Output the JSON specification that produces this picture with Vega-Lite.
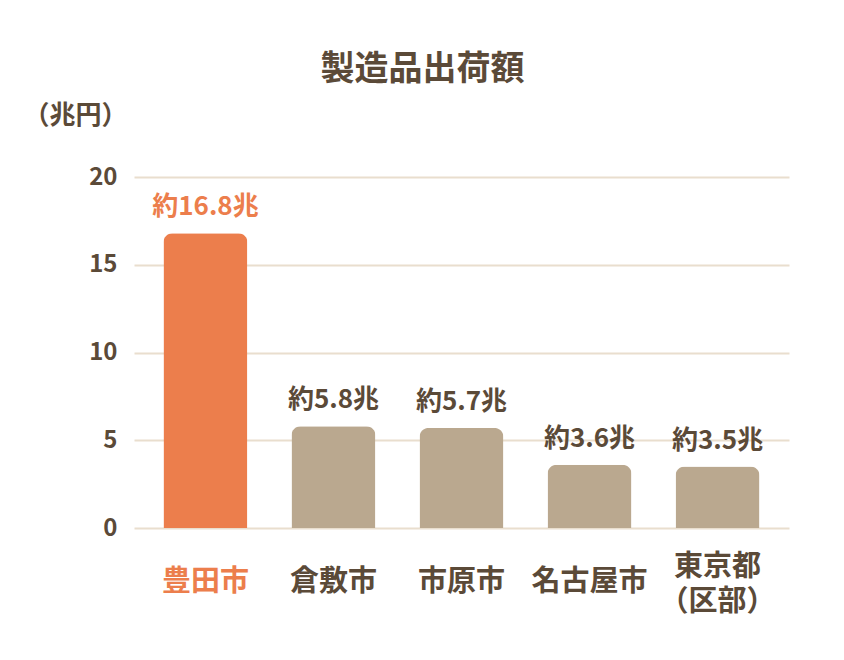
{
  "$schema": "https://vega.github.io/schema/vega-lite/v6.json",
  "autosize": {"type": "none"},
  "padding": {"left": 134, "top": 177, "right": 55, "bottom": 132},
  "width": 655,
  "height": 351,
  "background": "white",
  "config": {"view": {"stroke": null}, "font": "Noto Sans CJK JP"},
  "title": {
    "text": "製造品出荷額",
    "font": "Noto Sans CJK JP",
    "fontSize": 34,
    "fontWeight": "bold",
    "color": "#5B4A38",
    "anchor": "middle",
    "dx": -39,
    "offset": 15
  },
  "data": {
    "values": [
      {"city": "豊田市", "value": 16.8, "label": "約16.8兆"},
      {"city": "倉敷市", "value": 5.8, "label": "約5.8兆"},
      {"city": "市原市", "value": 5.7, "label": "約5.7兆"},
      {"city": "名古屋市", "value": 3.6, "label": "約3.6兆"},
      {"city": "東京都（区部）", "value": 3.5, "label": "約3.5兆"}
    ]
  },
  "encoding": {
    "x": {
      "field": "city",
      "type": "nominal",
      "sort": null,
      "scale": {"paddingInner": 0.344, "paddingOuter": 0.23},
      "axis": {
        "title": null,
        "domain": false,
        "ticks": false,
        "labelAngle": 0,
        "labelFontSize": 29,
        "labelFontWeight": "bold",
        "labelFont": "Noto Sans CJK JP",
        "labelBaseline": {"condition": {"test": "datum.value === '東京都（区部）'", "value": "bottom"}, "value": "middle"},
        "labelPadding": 53,
        "labelLineHeight": 35,
        "labelExpr": "datum.value === '東京都（区部）' ? ['東京都', '（区部）'] : datum.value",
        "labelColor": {"condition": {"test": "datum.value === '豊田市'", "value": "#EC7E4C"}, "value": "#5B4A38"}
      }
    },
    "y": {
      "field": "value",
      "type": "quantitative",
      "scale": {"domain": [0, 20], "nice": false},
      "axis": {
        "title": "（兆円）",
        "titleAngle": 0,
        "titleX": -59,
        "titleY": -62,
        "titleAlign": "center",
        "titleBaseline": "middle",
        "titleFontSize": 26,
        "titleFontWeight": "bold",
        "titleFont": "Noto Sans CJK JP",
        "titleColor": "#5B4A38",
        "values": [0, 5, 10, 15, 20],
        "domain": false,
        "ticks": false,
        "labelPadding": 17,
        "labelFontSize": 24,
        "labelFontWeight": "bold",
        "labelFont": "Noto Sans CJK JP",
        "labelColor": "#5B4A38",
        "gridColor": "#E9DECE",
        "gridWidth": 2
      }
    }
  },
  "layer": [
    {
      "mark": {"type": "bar", "cornerRadiusTopLeft": 9, "cornerRadiusTopRight": 9},
      "encoding": {
        "color": {"condition": {"test": "datum.city === '豊田市'", "value": "#EC7E4C"}, "value": "#BAA88F"}
      }
    },
    {
      "mark": {"type": "text", "baseline": "alphabetic", "dy": -18, "fontSize": 26, "fontWeight": "bold", "font": "Noto Sans CJK JP"},
      "encoding": {
        "text": {"field": "label"},
        "color": {"condition": {"test": "datum.city === '豊田市'", "value": "#EC7E4C"}, "value": "#5B4A38"}
      }
    }
  ]
}
